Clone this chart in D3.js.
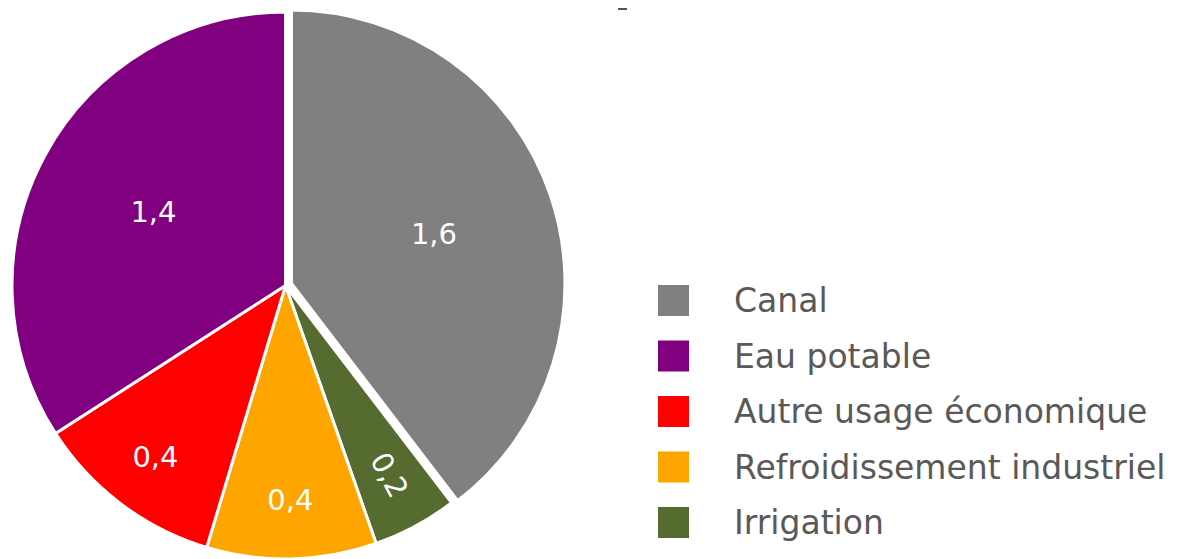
<!DOCTYPE html>
<html>
<head>
<meta charset="utf-8">
<script src="https://cdn.jsdelivr.net/npm/d3@7"></script>
<style>
  body { margin: 0; background: #fff; }
  svg { display: block; }
</style>
</head>
<body>
<svg width="1191" height="559"></svg>
<script>
// Chart data (labels show one decimal)
const categories = ["Canal", "Irrigation", "Refroidissement industriel", "Autre usage économique", "Eau potable"];
const values = [1.58, 0.2, 0.4, 0.449, 1.36];
const colors = ["#808080", "#556b2f", "#ffa500", "#ff0000", "#800080"];
const legendOrder = ["Canal", "Eau potable", "Autre usage économique", "Refroidissement industriel", "Irrigation"];

const svg = d3.select("svg");

const cx = 285.5, cy = 285.5, radius = 273.5;
const fmt = v => d3.format(".1f")(v).replace(".", ",");

const color = d3.scaleOrdinal().domain(categories).range(colors);

const pie = d3.pie()
    .value((d, i) => values[i])
    .sort(null);

const arcs = pie(categories);
const arc = d3.arc().innerRadius(0).outerRadius(radius);
const total = d3.sum(values);

const g = svg.append("g").attr("transform", `translate(${cx},${cy})`);

// the first slice (Canal) is pulled out a little
function offset(d, i) {
    if (i !== 0) return [0, 0];
    const a = (d.startAngle + d.endAngle) / 2;
    return [Math.sin(a) * 6.3, -Math.cos(a) * 6.3];
}

const slice = g.selectAll("g.slice")
    .data(arcs)
    .join("g")
    .attr("class", "slice")
    .attr("transform", (d, i) => `translate(${offset(d, i)})`);

slice.append("path")
    .attr("d", arc)
    .attr("fill", d => color(d.data))
    .attr("stroke", "#fff")
    .attr("stroke-width", 3)
    .attr("stroke-linejoin", "round");

// data labels: big slices nearer the middle, small ones near the rim
slice.append("text")
    .attr("transform", (d, i) => {
        const share = values[i] / total;
        const r = radius * (share > 0.25 ? 0.55 : 0.79);
        const a = (d.startAngle + d.endAngle) / 2;
        const x = Math.sin(a) * r, y = -Math.cos(a) * r;
        const rot = share < 0.1 ? a * 180 / Math.PI - 90 : 0;
        return `translate(${x},${y}) rotate(${rot})`;
    })
    .attr("text-anchor", "middle")
    .attr("dy", "0.3em")
    .attr("fill", "#fff")
    .style("font-family", "'DejaVu Sans', Verdana, sans-serif")
    .style("font-size", "29px")
    .text((d, i) => fmt(values[i]));

// legend
const legendY = d3.scalePoint()
    .domain(legendOrder)
    .range([300.5, 522.5]);

const legend = svg.append("g")
    .selectAll("g")
    .data(legendOrder)
    .join("g")
    .attr("transform", d => `translate(658,${legendY(d)})`);

legend.append("rect")
    .attr("x", 0)
    .attr("y", -15.5)
    .attr("width", 31)
    .attr("height", 31)
    .attr("fill", d => color(d));

legend.append("text")
    .attr("x", 76)
    .attr("dy", "0.36em")
    .attr("fill", "#595959")
    .style("font-family", "'DejaVu Sans', Verdana, sans-serif")
    .style("font-size", "33px")
    .text(d => d);

// leftover mark of a cropped title at the top
svg.append("rect")
    .attr("x", 618)
    .attr("y", 8)
    .attr("width", 9)
    .attr("height", 2)
    .attr("fill", "#555");
</script>
</body>
</html>
